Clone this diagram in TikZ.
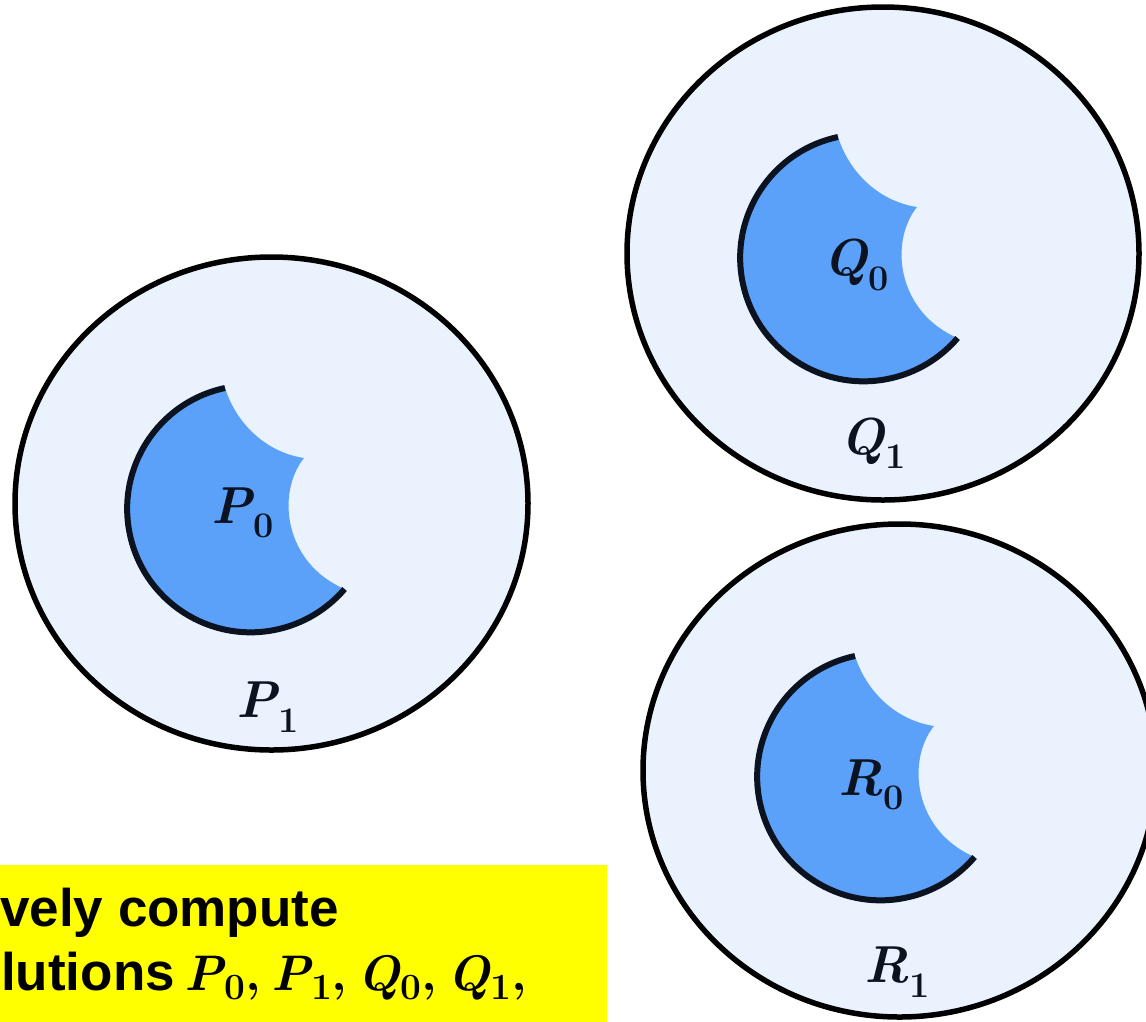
\documentclass[tikz,border=0pt]{standalone}
\usepackage{fontspec}
\setsansfont{Liberation Sans}
\definecolor{lightfill}{HTML}{EAF2FD}
\definecolor{darkfill}{HTML}{5BA1FA}
\definecolor{rim}{HTML}{0B1220}
\definecolor{note}{HTML}{FFFF00}
\newcommand\setlbl[2]{{\rmfamily\bfseries\itshape #1}\kern1pt\raisebox{-0.28em}{\rmfamily\bfseries\fontsize{36}{40}\selectfont #2}}
\newcommand\mvar[2]{{\rmfamily\bfseries\itshape\fontsize{50}{60}\selectfont #1}\kern0.5pt\raisebox{-9pt}{\rmfamily\bfseries\fontsize{37}{40}\selectfont #2}{\rmfamily\bfseries\fontsize{50}{60}\selectfont ,}}
\tikzset{
  outer/.style={draw=black, line width=5.5pt, fill=lightfill},
  rimline/.style={draw=rim, line width=6pt},
  lbl/.style={inner sep=0pt, text=rim, font=\fontsize{52}{60}\selectfont},
  notetext/.style={inner sep=0pt, anchor=base west, font=\sffamily\bfseries\fontsize{53}{63}\selectfont},
  pics/pacman/.style={code={
    \fill[darkfill] (-25,-120) arc[start angle=258, end angle=40.5, radius=123.5]
      .. controls (34,55) and (26,-15) .. (54,-50)
      .. controls (20,-55) and (-12,-80) .. (-25,-120) -- cycle;
    \draw[rimline] (-25,-120) arc[start angle=258, end angle=40.5, radius=123.5];
  }}
}
\begin{document}
\begin{tikzpicture}[x=1pt,y=-1pt]
\useasboundingbox (0,0) rectangle (1146,1021);
\begin{scope}
\clip (0,0) rectangle (1146,1021);
% outer sets
\draw[outer] (271.5,503.5) ellipse[x radius=256.5, y radius=246.5];
\draw[outer] (883,253.5) ellipse[x radius=256, y radius=246.5];
\draw[outer] (899.5,770.5) ellipse[x radius=256.5, y radius=246.5];
% inner sets
\pic at (250,508) {pacman};
\pic at (863,257) {pacman};
\pic at (880,776) {pacman};
% labels
\node[lbl] (p0) at (243,513) {\setlbl{P}{0}};
\node[lbl] (p1) at (268,707) {\setlbl{P}{1}};
\node[lbl] (q0) at (856,265) {\setlbl{Q}{0}};
\node[lbl] (q1) at (873,443) {\setlbl{Q}{1}};
\node[lbl] (r0) at (871,785) {\setlbl{R}{0}};
\node[lbl] (r1) at (897,972) {\setlbl{R}{1}};
% note box
\fill[note] (0,865) rectangle (607,1030);
\node[notetext] (n1) at (0,926) {vely compute};
\node[notetext] (n2) at (1,990) {lutions\hspace{10pt}\mvar{P}{0}\hspace{10pt}\mvar{P}{1}\hspace{10pt}\mvar{Q}{0}\hspace{10pt}\mvar{Q}{1}};
\end{scope}
\end{tikzpicture}
\end{document}
